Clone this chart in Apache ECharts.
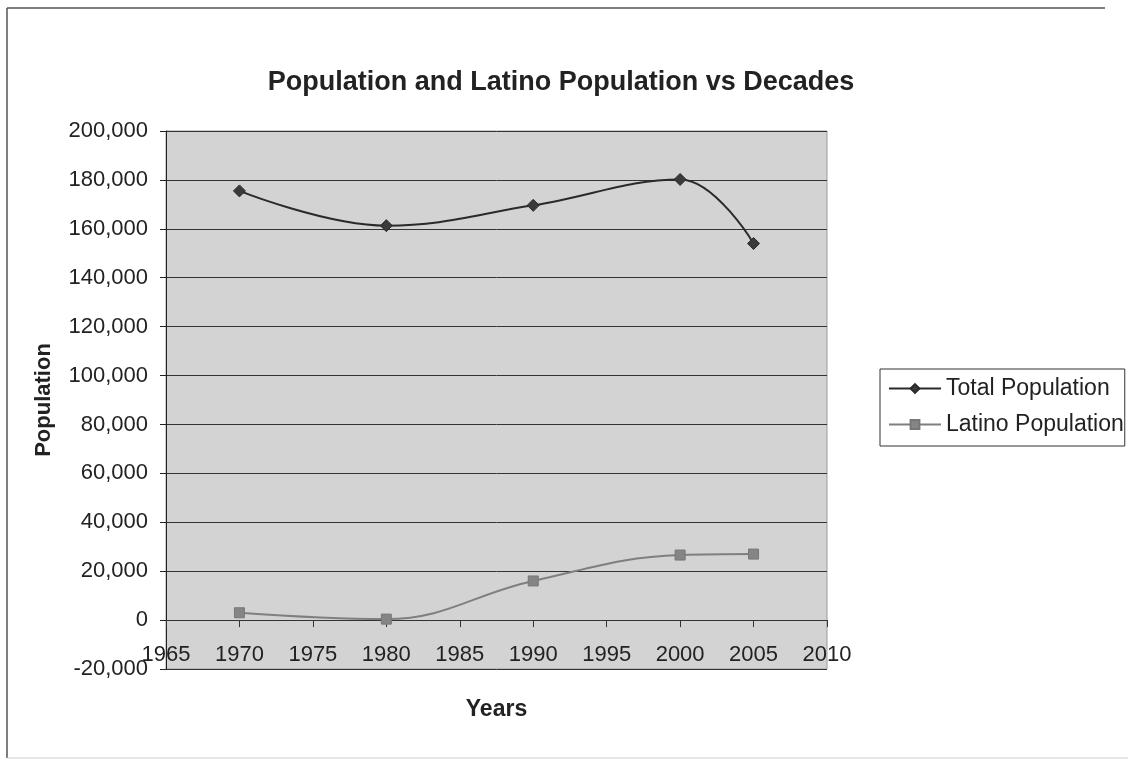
<!DOCTYPE html>
<html>
<head>
<meta charset="utf-8">
<script src="https://cdn.jsdelivr.net/npm/echarts@6/dist/echarts.min.js"></script>
<style>
html,body{margin:0;padding:0;background:#fff;}
#chart{width:1128px;height:761px;}
</style>
</head>
<body>
<div id="chart"></div>
<script>
var years = [1970, 1980, 1990, 2000, 2005];
var totalPopulation = [175500, 161300, 169600, 180200, 154000];
var latinoPopulation = [3000, 400, 16000, 26600, 27000];
var seriesNames = ['Total Population', 'Latino Population'];

function pairs(xs, ys) { return xs.map(function (x, i) { return [x, ys[i]]; }); }

var FONT = '"Liberation Sans", Arial, sans-serif';
var chart = echarts.init(document.getElementById('chart'), null, {renderer: 'canvas'});
chart.setOption({
  animation: false,
  backgroundColor: '#ffffff',
  title: {
    text: 'Population and Latino Population vs Decades',
    left: 556, top: 64, textAlign: 'center',
    textStyle: {fontFamily: FONT, fontSize: 27, fontWeight: 'bold', color: '#222'}
  },
  graphic: [{
    type: 'line', z: -1,
    shape: {x1: 7, y1: 8, x2: 1105, y2: 8},
    style: {stroke: '#555', lineWidth: 1.5}
  }, {
    type: 'line', z: -1,
    shape: {x1: 7, y1: 8, x2: 7, y2: 758},
    style: {stroke: '#555', lineWidth: 1.5}
  }, {
    type: 'line', z: -1,
    shape: {x1: 7, y1: 758, x2: 1128, y2: 758},
    style: {stroke: '#ccc', lineWidth: 1}
  }],
  legend: {
    orient: 'vertical', left: 880, top: 369,
    data: seriesNames,
    itemWidth: 52, itemHeight: 11, itemGap: 13,
    padding: [8, 1, 10, 8],
    borderColor: '#333', borderWidth: 1,
    textStyle: {fontFamily: FONT, fontSize: 23, color: '#222'}
  },
  grid: {
    left: 166, right: 301, top: 131, bottom: 92,
    show: true, backgroundColor: '#d3d3d3', borderColor: '#9a9a9a', borderWidth: 1
  },
  xAxis: {
    type: 'value', min: 1965, max: 2010, interval: 5,
    name: 'Years', nameLocation: 'middle', nameGap: 29,
    nameTextStyle: {fontFamily: FONT, fontSize: 23, fontWeight: 'bold', color: '#222'},
    axisLine: {onZero: true, lineStyle: {color: '#333', width: 1}},
    axisTick: {show: true, inside: false, length: 7, lineStyle: {color: '#333'}},
    axisLabel: {margin: -25, fontFamily: FONT, fontSize: 22, color: '#222',
      formatter: function (v) { return String(v); }},
    splitLine: {show: false}
  },
  yAxis: {
    type: 'value', min: -20000, max: 200000, interval: 20000,
    name: 'Population', nameLocation: 'middle', nameGap: 111,
    nameTextStyle: {fontFamily: FONT, fontSize: 22, fontWeight: 'bold', color: '#222'},
    axisLine: {show: true, lineStyle: {color: '#222', width: 1}},
    axisTick: {show: true, inside: false, length: 6, lineStyle: {color: '#222'}},
    axisLabel: {margin: 18, fontFamily: FONT, fontSize: 22, color: '#222',
      formatter: function (v) { return v.toLocaleString('en-US'); }},
    splitLine: {show: true, lineStyle: {color: '#333', width: 1}}
  },
  series: [{
    name: seriesNames[0], type: 'line', smooth: 0.4,
    data: pairs(years, totalPopulation),
    symbol: 'diamond', symbolSize: 12,
    lineStyle: {color: '#2a2a2a', width: 2},
    itemStyle: {color: '#3a3a3a', borderColor: '#2a2a2a', borderWidth: 1},
    z: 3
  }, {
    name: seriesNames[1], type: 'line', smooth: 0.4,
    data: pairs(years, latinoPopulation),
    symbol: 'rect', symbolSize: 10,
    lineStyle: {color: '#7f7f7f', width: 2},
    itemStyle: {color: '#858585', borderColor: '#777', borderWidth: 1},
    z: 3
  }]
});
</script>
</body>
</html>
